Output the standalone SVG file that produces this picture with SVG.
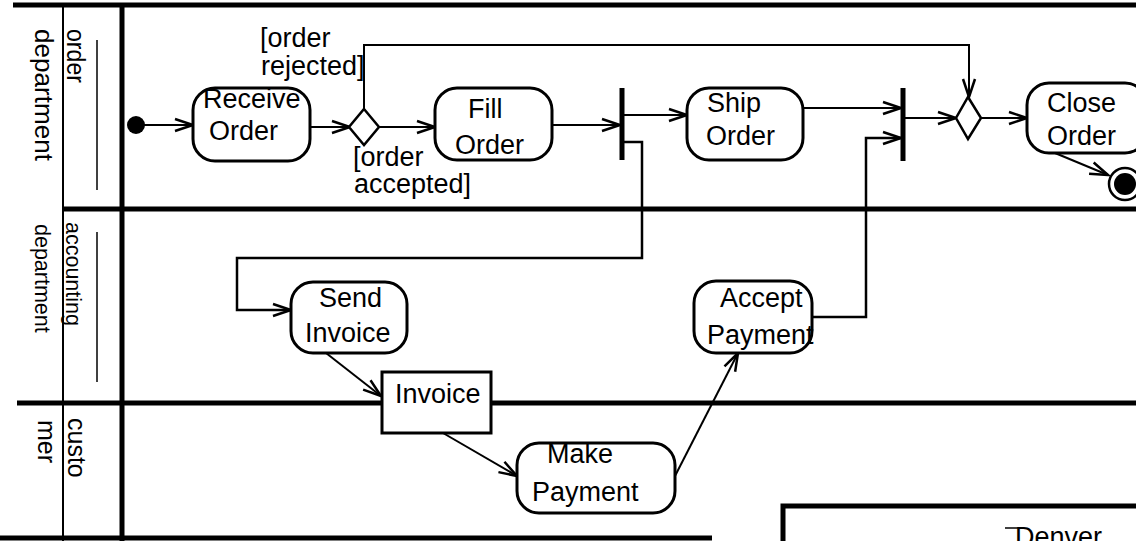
<svg xmlns="http://www.w3.org/2000/svg" width="1136" height="541" viewBox="0 0 1136 541">
<style>
.lane{stroke:#000;stroke-width:5;fill:none}
.thin{stroke:#000;stroke-width:2;fill:none}
.hair{stroke:#000;stroke-width:1.5;fill:none}
.act{fill:#fff;stroke:#000;stroke-width:3}
.t{font-family:"Liberation Sans",Arial,sans-serif;font-size:27px;fill:#000}
.lbl{font-family:"Liberation Sans",Arial,sans-serif;fill:#000}
.c{stroke:#000;stroke-width:2;fill:none;marker-end:url(#arr)}
.cn{stroke:#000;stroke-width:2;fill:none}
</style>
<defs>
<marker id="arr" markerUnits="userSpaceOnUse" markerWidth="24" markerHeight="16" refX="20" refY="8" orient="auto">
<path d="M2,2 L20,8 L2,14" fill="none" stroke="#000" stroke-width="2.5"/>
</marker>
</defs>
<rect width="1136" height="541" fill="#fff"/>
<g id="lanes">
<line class="lane" x1="13" y1="5" x2="1136" y2="5"/>
<line class="lane" x1="63" y1="209" x2="1136" y2="209"/>
<line class="lane" x1="17" y1="403" x2="1136" y2="403"/>
<line class="lane" x1="0" y1="538" x2="712" y2="538"/>
<line class="thin" x1="63" y1="5" x2="63" y2="541"/>
<line class="lane" x1="122" y1="3" x2="122" y2="541"/>
<line class="hair" x1="97" y1="40" x2="97" y2="190"/>
<line class="hair" x1="97" y1="232" x2="97" y2="382"/>
<text class="lbl" font-size="25" x="35" y="29" transform="rotate(90 35 29)" textLength="132" lengthAdjust="spacingAndGlyphs">department</text>
<text class="lbl" font-size="25" x="67" y="29" transform="rotate(90 67 29)" textLength="54" lengthAdjust="spacingAndGlyphs">order</text>
<text class="lbl" font-size="21.5" x="35" y="224" transform="rotate(90 35 224)">department</text>
<text class="lbl" font-size="21.5" x="66" y="222" transform="rotate(90 66 222)">accounting</text>
<text class="lbl" font-size="25" x="38" y="420" transform="rotate(90 38 420)">mer</text>
<text class="lbl" font-size="25" x="68" y="418" transform="rotate(90 68 418)">custo</text>
</g>
<g id="denver">
<path class="lane" d="M783,541 V506 H1136"/>
<line class="hair" x1="1005" y1="528" x2="1018" y2="528"/>
<text class="t" x="1015" y="546">Denver</text>
</g>
<g id="connectors">
<path class="c" d="M144,125 H193"/>
<path class="c" d="M310,127 H350"/>
<path class="c" d="M379,127 H435"/>
<path class="c" d="M364,109 V45 H969 V97"/>
<path class="c" d="M552,125 H620"/>
<path class="c" d="M624,115 H687"/>
<path class="c" d="M624,142 H642 V258 H237 V310 H291" style="stroke-width:2.5"/>
<path class="c" d="M326,353 L381,396"/>
<path class="c" d="M443,433 L517,476"/>
<path class="c" d="M675,476 L738,353"/>
<path class="c" d="M812,317 H866 V138 H901" style="stroke-width:2.5"/>
<path class="c" d="M803,108 H901"/>
<path class="c" d="M905,118 H956"/>
<path class="c" d="M981,118 H1027"/>
<path class="c" d="M1055,153 L1108,175"/>
</g>
<g id="initial"><circle cx="136" cy="125" r="9" fill="#000"/></g>
<g id="receive-order">
<rect class="act" x="193" y="88" width="117" height="73" rx="22"/>
<text class="t" x="203" y="108">Receive</text>
<text class="t" x="209" y="140">Order</text>
</g>
<g id="decision1">
<polygon class="act" points="364,109 379,127 364,145 349,127" style="stroke-width:2.5"/>
<text class="t" x="260" y="47">[order</text>
<text class="t" x="261" y="75">rejected]</text>
<text class="t" x="353" y="166">[order</text>
<text class="t" x="354" y="193">accepted]</text>
</g>
<g id="fill-order">
<rect class="act" x="435" y="88" width="117" height="72" rx="22"/>
<text class="t" x="468" y="118">Fill</text>
<text class="t" x="455" y="154">Order</text>
</g>
<g id="fork"><rect x="619.5" y="88" width="5" height="72" fill="#000"/></g>
<g id="ship-order">
<rect class="act" x="687" y="88" width="116" height="72" rx="22"/>
<text class="t" x="707" y="112">Ship</text>
<text class="t" x="706" y="145">Order</text>
</g>
<g id="join"><rect x="900.5" y="88" width="5" height="73" fill="#000"/></g>
<g id="decision2"><polygon class="act" points="968,97 981,118 968,139 956,118" style="stroke-width:2.5"/></g>
<g id="close-order">
<rect class="act" x="1027" y="83" width="120" height="70" rx="22"/>
<text class="t" x="1047" y="112">Close</text>
<text class="t" x="1047" y="145">Order</text>
</g>
<g id="final">
<circle cx="1125" cy="184" r="16" fill="#fff" stroke="#000" stroke-width="2.5"/>
<circle cx="1125" cy="184" r="11" fill="#000"/>
</g>
<g id="send-invoice">
<rect class="act" x="291" y="282" width="116" height="71" rx="22"/>
<text class="t" x="319" y="307">Send</text>
<text class="t" x="305" y="342">Invoice</text>
</g>
<g id="invoice">
<rect class="act" x="382" y="372" width="109" height="61"/>
<text class="t" x="395" y="403">Invoice</text>
</g>
<g id="make-payment">
<rect class="act" x="517" y="443" width="158" height="70" rx="22"/>
<text class="t" x="547" y="463">Make</text>
<text class="t" x="532" y="501">Payment</text>
</g>
<g id="accept-payment">
<rect class="act" x="694" y="281" width="118" height="72" rx="22"/>
<text class="t" x="720" y="307">Accept</text>
<text class="t" x="707" y="344">Payment</text>
</g>
</svg>
